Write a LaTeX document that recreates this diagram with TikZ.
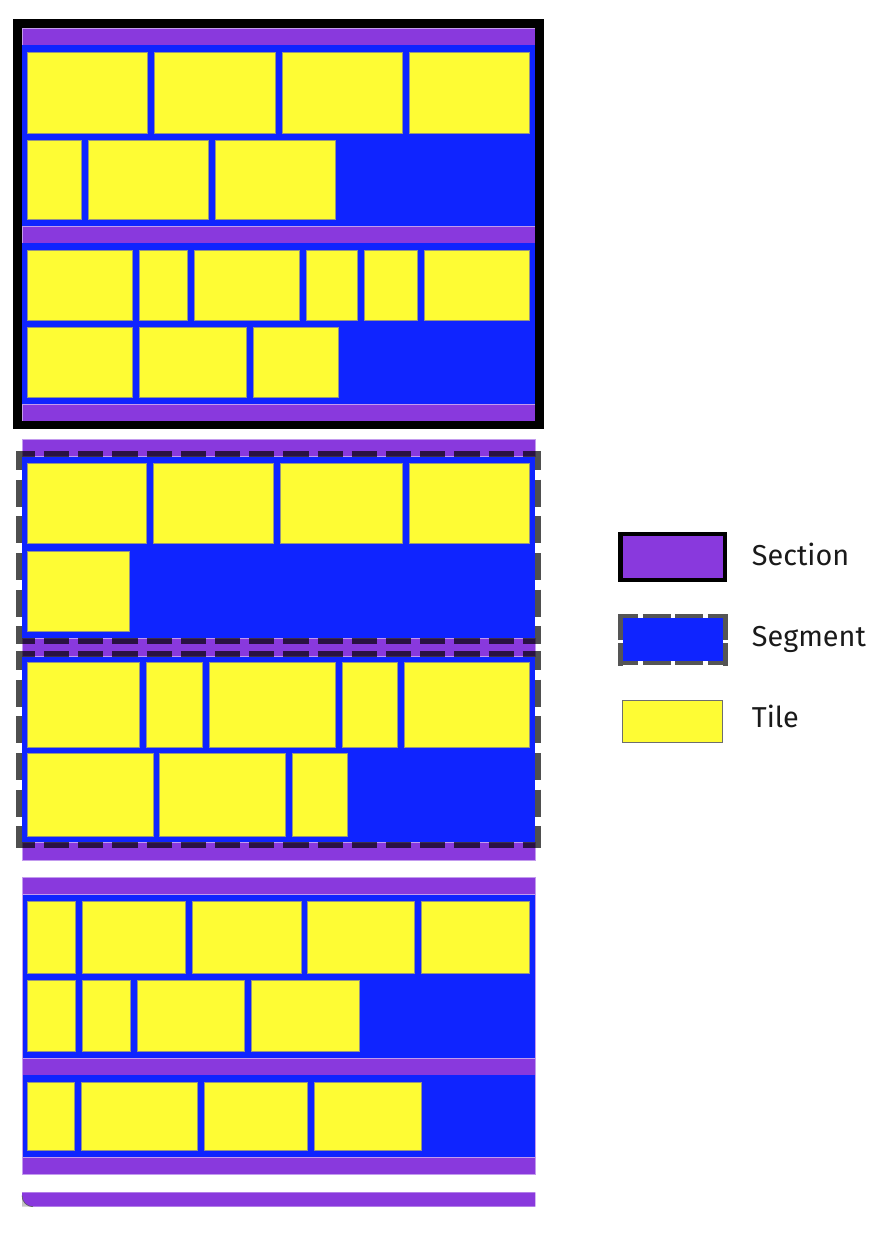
\documentclass[tikz,border=0pt]{standalone}
\usepackage{fontspec}
\setmainfont{Fira Sans}
\definecolor{segblue}{RGB}{15,36,255}
\definecolor{secpurple}{RGB}{137,57,221}
\definecolor{secedge}{RGB}{195,155,238}
\definecolor{tileyellow}{RGB}{254,252,52}
\definecolor{tileedge}{RGB}{150,150,130}
\definecolor{legtileedge}{RGB}{110,110,110}
\definecolor{labeltext}{RGB}{26,26,26}
\definecolor{legdash}{RGB}{85,85,85}
\tikzset{
  secbar/.style={fill=secpurple, draw=secedge, line width=0.6pt},
  segfill/.style={fill=segblue},
  tilebox/.style={fill=tileyellow, draw=tileedge, line width=0.7pt},
  secborder/.style={draw=black, line width=8.7pt},
  hdash/.style={draw=black, draw opacity=0.69, line width=5.8pt, dash pattern=on 25.3pt off 8.9pt, dash phase=12.3pt},
  vdash/.style={draw=black, draw opacity=0.69, line width=5.6pt, dash pattern=on 27pt off 9.7pt, dash phase=8pt},
  leghdash/.style={draw=legdash, line width=4.4pt, dash pattern=on 28pt off 4.5pt, dash phase=8pt},
  legvdash/.style={draw=legdash, line width=4.4pt, dash pattern=on 25.7pt off 3.3pt},
  legtext/.style={font=\fontsize{28.8}{33}\selectfont, text=labeltext, inner sep=0pt, anchor=base west},
}
\newcommand\tilerow[3]{\foreach \xa/\xb in {#3}{\path[tilebox] (\xa,#1) rectangle (\xb,#2);}}
\begin{document}
\begin{tikzpicture}[x=1pt,y=-1pt]
\useasboundingbox (0,0) rectangle (880,1236);

% ---------- Section 1 (bordered) ----------
\path[secbar] (22,28) rectangle (535.3,45);
\path[segfill] (22,45) rectangle (535.3,226);
\path[secbar] (22,226) rectangle (535.3,243);
\path[segfill] (22,243) rectangle (535.3,404.5);
\path[secbar] (22,404.5) rectangle (535.3,421);
\tilerow{52.3}{133}{27.3/147.7,154.7/275,282/402,409/529.3}
\tilerow{140}{219}{27.3/81,88/208,215/335}
\tilerow{250}{320.3}{27.3/132,139/187,194/299,306/357.3,364/417.7,424.3/529.3}
\tilerow{327.3}{397.7}{27.3/132,139/246,253/338.7}
\path[secborder] (17.65,23.65) rectangle (539.65,425);

% ---------- Section 2 (dashed segments) ----------
\path[secbar] (22,439) rectangle (535.3,456.7);
\path[secbar] (22,638.3) rectangle (535.3,656.7);
\path[secbar] (22,842.3) rectangle (535.3,860);
% segment A borders
\path[hdash] (22,453.8) -- (535.3,453.8);
\path[hdash] (22,641.2) -- (535.3,641.2);
\path[vdash] (19.1,450.9) -- (19.1,644.1);
\path[vdash] (538.2,450.9) -- (538.2,644.1);
% segment B borders
\path[hdash] (22,653.8) -- (535.3,653.8);
\path[hdash] (22,845.2) -- (535.3,845.2);
\path[vdash] (19.1,650.9) -- (19.1,848.1);
\path[vdash] (538.2,650.9) -- (538.2,848.1);
\path[segfill] (22,456.7) rectangle (535.3,638.3);
\path[segfill] (22,656.7) rectangle (535.3,842.3);
\tilerow{463.3}{543.7}{27.3/146,153/273,280/402,409/529.3}
\tilerow{551}{631.7}{27.3/129}
\tilerow{662.7}{747}{27.3/139,146/202.5,209.5/335,342/397,404/529.3}
\tilerow{753.7}{836.3}{27.3/153,159.6/285.4,292/347}

% ---------- Section 3 ----------
\path[secbar] (22,877.3) rectangle (535.3,894.7);
\path[segfill] (22,894.7) rectangle (535.3,1058.3);
\path[secbar] (22,1058.3) rectangle (535.3,1075);
\path[segfill] (22,1075) rectangle (535.3,1157.7);
\path[secbar] (22,1157.7) rectangle (535.3,1174.7);
\path[draw=secedge, line width=0.6pt] (22,877.3) rectangle (535.3,1174.7);
\tilerow{901.3}{973.7}{27.3/75.7,82.5/185.7,192.5/301,307.5/414,421/529.3}
\tilerow{980.3}{1051.3}{27.3/75.7,82.5/130.7,137.5/244,251/359}
\tilerow{1082.3}{1150.7}{27.3/74,81/197.5,204.3/307.5,314.3/421}

% ---------- partial section at bottom ----------
\fill[gray!45] (22,1195.7) -- (22,1206.7) -- (33,1206.7) -- cycle;
\path[fill=secpurple] (535.3,1192.3) -- (22,1192.3) -- (22,1195.7)
  .. controls (22,1201.8) and (26.9,1206.7) .. (33,1206.7) -- (535.3,1206.7) -- cycle;
\draw[gray!70!black, line width=0.6pt] (22,1195.7) .. controls (22,1201.8) and (26.9,1206.7) .. (33,1206.7);

% ---------- Legend ----------
\path[fill=secpurple, draw=black, line width=4.3pt] (620.5,533.7) rectangle (725,580.3);
\path[leghdash] (618.3,616.3) -- (727.7,616.3);
\path[leghdash] (618.3,663.2) -- (727.7,663.2);
\path[legvdash] (620.5,614.3) -- (620.5,665.7);
\path[legvdash] (725.5,614.3) -- (725.5,665.7);
\path[segfill] (622.7,618.3) rectangle (723.3,660.7);
\path[fill=tileyellow, draw=legtileedge, line width=0.8pt] (622.7,700.7) rectangle (722.3,742.7);
\node[legtext] (lsec) at (751.7,565.7) {Section};
\node[legtext] (lseg) at (751.7,646) {Segment};
\node[legtext] (ltile) at (751.7,727.5) {Tile};
\end{tikzpicture}
\end{document}
